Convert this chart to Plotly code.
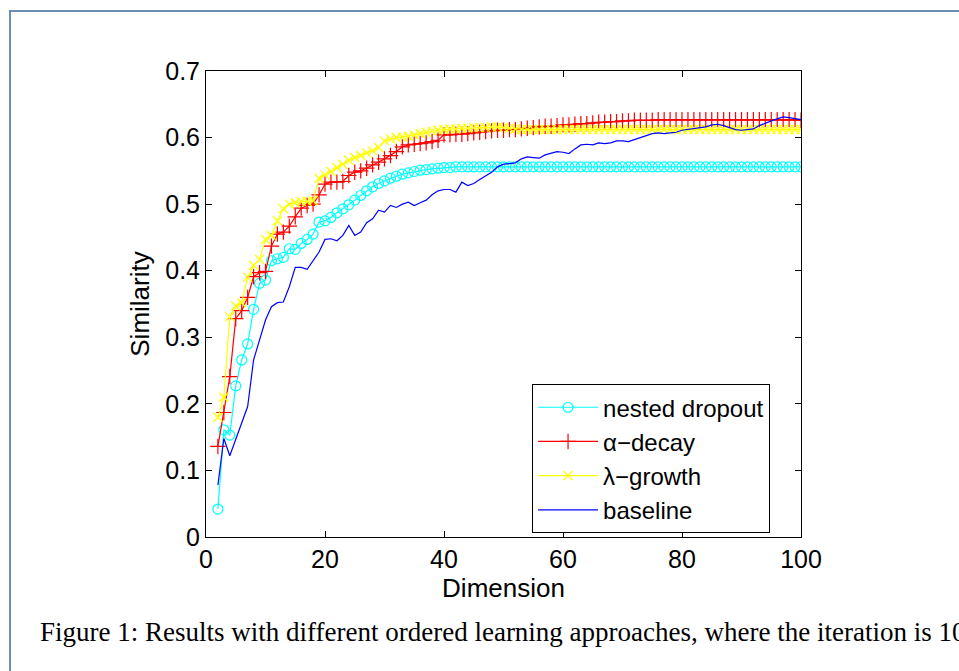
import plotly.graph_objects as go

dims = list(range(2, 101))

nested_dropout = [
    0.042, 0.161, 0.153, 0.227, 0.266, 0.290, 0.342, 0.381, 0.386, 0.415,
    0.418, 0.420, 0.433, 0.432, 0.441, 0.447, 0.455, 0.473, 0.475, 0.480,
    0.487, 0.493, 0.499, 0.506, 0.513, 0.520, 0.526, 0.531, 0.535, 0.539,
    0.542, 0.545, 0.547, 0.549, 0.551, 0.552, 0.553, 0.554, 0.555, 0.555,
    0.556, 0.556, 0.556, 0.556, 0.556, 0.556, 0.556, 0.556, 0.556, 0.556,
    0.556, 0.556, 0.556, 0.556, 0.556, 0.556, 0.556, 0.556, 0.556, 0.556,
    0.556, 0.556, 0.556, 0.556, 0.556, 0.556, 0.556, 0.556, 0.556, 0.556,
    0.556, 0.556, 0.556, 0.556, 0.556, 0.556, 0.556, 0.556, 0.556, 0.556,
    0.556, 0.556, 0.556, 0.556, 0.556, 0.556, 0.556, 0.556, 0.556, 0.556,
    0.556, 0.556, 0.556, 0.556, 0.556, 0.556, 0.556, 0.556, 0.556,
]

alpha_decay = [
    0.136, 0.187, 0.241, 0.328, 0.340, 0.360, 0.391, 0.397, 0.399, 0.437,
    0.455, 0.458, 0.467, 0.481, 0.494, 0.498, 0.500, 0.514, 0.530, 0.533,
    0.533, 0.534, 0.543, 0.548, 0.550, 0.554, 0.559, 0.563, 0.568, 0.573,
    0.579, 0.586, 0.589, 0.590, 0.591, 0.592, 0.594, 0.596, 0.604, 0.604,
    0.605, 0.605, 0.606, 0.607, 0.608, 0.609, 0.610, 0.611, 0.611, 0.612,
    0.612, 0.613, 0.614, 0.615, 0.616, 0.617, 0.617, 0.618, 0.619, 0.619,
    0.620, 0.621, 0.621, 0.622, 0.623, 0.623, 0.624, 0.624, 0.625, 0.625,
    0.626, 0.626, 0.626, 0.626, 0.627, 0.627, 0.627, 0.627, 0.627, 0.627,
    0.627, 0.627, 0.627, 0.627, 0.627, 0.627, 0.627, 0.627, 0.627, 0.627,
    0.627, 0.627, 0.627, 0.627, 0.627, 0.627, 0.627, 0.627, 0.626,
]

lambda_growth = [
    0.180, 0.210, 0.331, 0.347, 0.352, 0.390, 0.408, 0.417, 0.447, 0.453,
    0.475, 0.493, 0.500, 0.502, 0.504, 0.504, 0.505, 0.539, 0.544, 0.549,
    0.555, 0.560, 0.566, 0.570, 0.573, 0.577, 0.580, 0.585, 0.595, 0.598,
    0.600, 0.601, 0.602, 0.604, 0.606, 0.608, 0.610, 0.611, 0.612, 0.613,
    0.613, 0.614, 0.614, 0.615, 0.615, 0.615, 0.616, 0.616, 0.615, 0.614,
    0.613, 0.612, 0.612, 0.612, 0.612, 0.612, 0.612, 0.612, 0.612, 0.612,
    0.612, 0.612, 0.612, 0.612, 0.612, 0.612, 0.612, 0.612, 0.612, 0.612,
    0.612, 0.612, 0.612, 0.612, 0.612, 0.612, 0.612, 0.612, 0.612, 0.612,
    0.612, 0.612, 0.612, 0.612, 0.612, 0.612, 0.612, 0.612, 0.612, 0.612,
    0.612, 0.612, 0.612, 0.612, 0.612, 0.612, 0.612, 0.612, 0.612,
]

baseline = [
    0.078, 0.148, 0.122, 0.146, 0.171, 0.196, 0.266, 0.296, 0.326, 0.346,
    0.352, 0.353, 0.376, 0.405, 0.405, 0.402, 0.416, 0.428, 0.447, 0.448,
    0.445, 0.453, 0.468, 0.453, 0.458, 0.472, 0.478, 0.491, 0.488, 0.498,
    0.495, 0.500, 0.503, 0.498, 0.502, 0.506, 0.514, 0.520, 0.522, 0.522,
    0.518, 0.533, 0.528, 0.531, 0.537, 0.542, 0.548, 0.556, 0.560, 0.561,
    0.562, 0.568, 0.571, 0.570, 0.569, 0.574, 0.577, 0.579, 0.578, 0.576,
    0.583, 0.589, 0.590, 0.589, 0.592, 0.591, 0.592, 0.595, 0.595, 0.594,
    0.597, 0.600, 0.603, 0.606, 0.607, 0.606, 0.607, 0.608, 0.611, 0.612,
    0.613, 0.614, 0.616, 0.619, 0.620, 0.618, 0.615, 0.612, 0.611, 0.612,
    0.613, 0.618, 0.622, 0.625, 0.628, 0.631, 0.630, 0.628, 0.627,
]

x_ticks = [0, 20, 40, 60, 80, 100]
y_ticks = [0, 0.1, 0.2, 0.3, 0.4, 0.5, 0.6, 0.7]
y_tick_text = ["0", "0.1", "0.2", "0.3", "0.4", "0.5", "0.6", "0.7"]

caption = "Figure 1: Results with different ordered learning approaches, where the iteration is 100"

SANS = "Liberation Sans, Arial, Helvetica, sans-serif"
SERIF = "Liberation Serif, Times New Roman, serif"

fig = go.Figure()
fig.add_trace(go.Scatter(
    x=dims, y=nested_dropout, name="nested dropout", mode="lines+markers",
    line=dict(color="#00ffff", width=1.2),
    marker=dict(symbol="circle-open", size=10, color="#00ffff", line=dict(width=1.2, color="#00ffff")),
))
fig.add_trace(go.Scatter(
    x=dims, y=alpha_decay, name="α−decay", mode="lines+markers",
    line=dict(color="#ff0000", width=1.2),
    marker=dict(symbol="cross-thin-open", size=11, color="#ff0000", line=dict(width=1.2, color="#ff0000")),
))
fig.add_trace(go.Scatter(
    x=dims, y=lambda_growth, name="λ−growth", mode="lines+markers",
    line=dict(color="#ffff00", width=1.2),
    marker=dict(symbol="x-thin-open", size=9, color="#ffff00", line=dict(width=1.3, color="#ffff00")),
))
fig.add_trace(go.Scatter(
    x=dims, y=baseline, name="baseline", mode="lines",
    line=dict(color="#0000ff", width=1.2),
))

axis_common = dict(
    showline=True, linecolor="black", linewidth=1, mirror="ticks",
    ticks="inside", ticklen=6, tickcolor="black", tickwidth=1,
    showgrid=False, zeroline=False,
    tickfont=dict(family=SANS, size=25, color="black"),
)

fig.update_layout(
    width=959, height=671,
    margin=dict(l=206, r=158, t=71, b=134, autoexpand=False),
    paper_bgcolor="white", plot_bgcolor="white",
    xaxis=dict(range=[0, 100], tickvals=x_ticks,
               title=dict(text="Dimension", font=dict(family=SANS, size=26, color="black"), standoff=2),
               **axis_common),
    yaxis=dict(range=[0, 0.7], tickvals=y_ticks, ticktext=y_tick_text,
               title=dict(text="Similarity", font=dict(family=SANS, size=26, color="black"), standoff=8),
               **axis_common),
    legend=dict(
        x=0.548, y=0.328, xanchor="left", yanchor="top",
        bgcolor="white", bordercolor="black", borderwidth=1,
        font=dict(family=SANS, size=24, color="black"),
        itemwidth=60,
    ),
    showlegend=True,
)

fig.add_shape(type="rect", xref="paper", yref="paper",
              x0=-0.3294, x1=1.35, y0=-0.5, y1=1.1288,
              line=dict(color="#6d8cb4", width=2), fillcolor="rgba(0,0,0,0)", layer="below")

fig.add_annotation(text=caption, xref="paper", yref="paper",
                   x=-0.2824, y=-0.204, xanchor="left", yanchor="middle",
                   showarrow=False, font=dict(family=SERIF, size=27, color="black"))

fig.write_html("out.html", config={"displayModeBar": False},
               post_script="document.body.style.margin='0';document.body.style.padding='0';")
